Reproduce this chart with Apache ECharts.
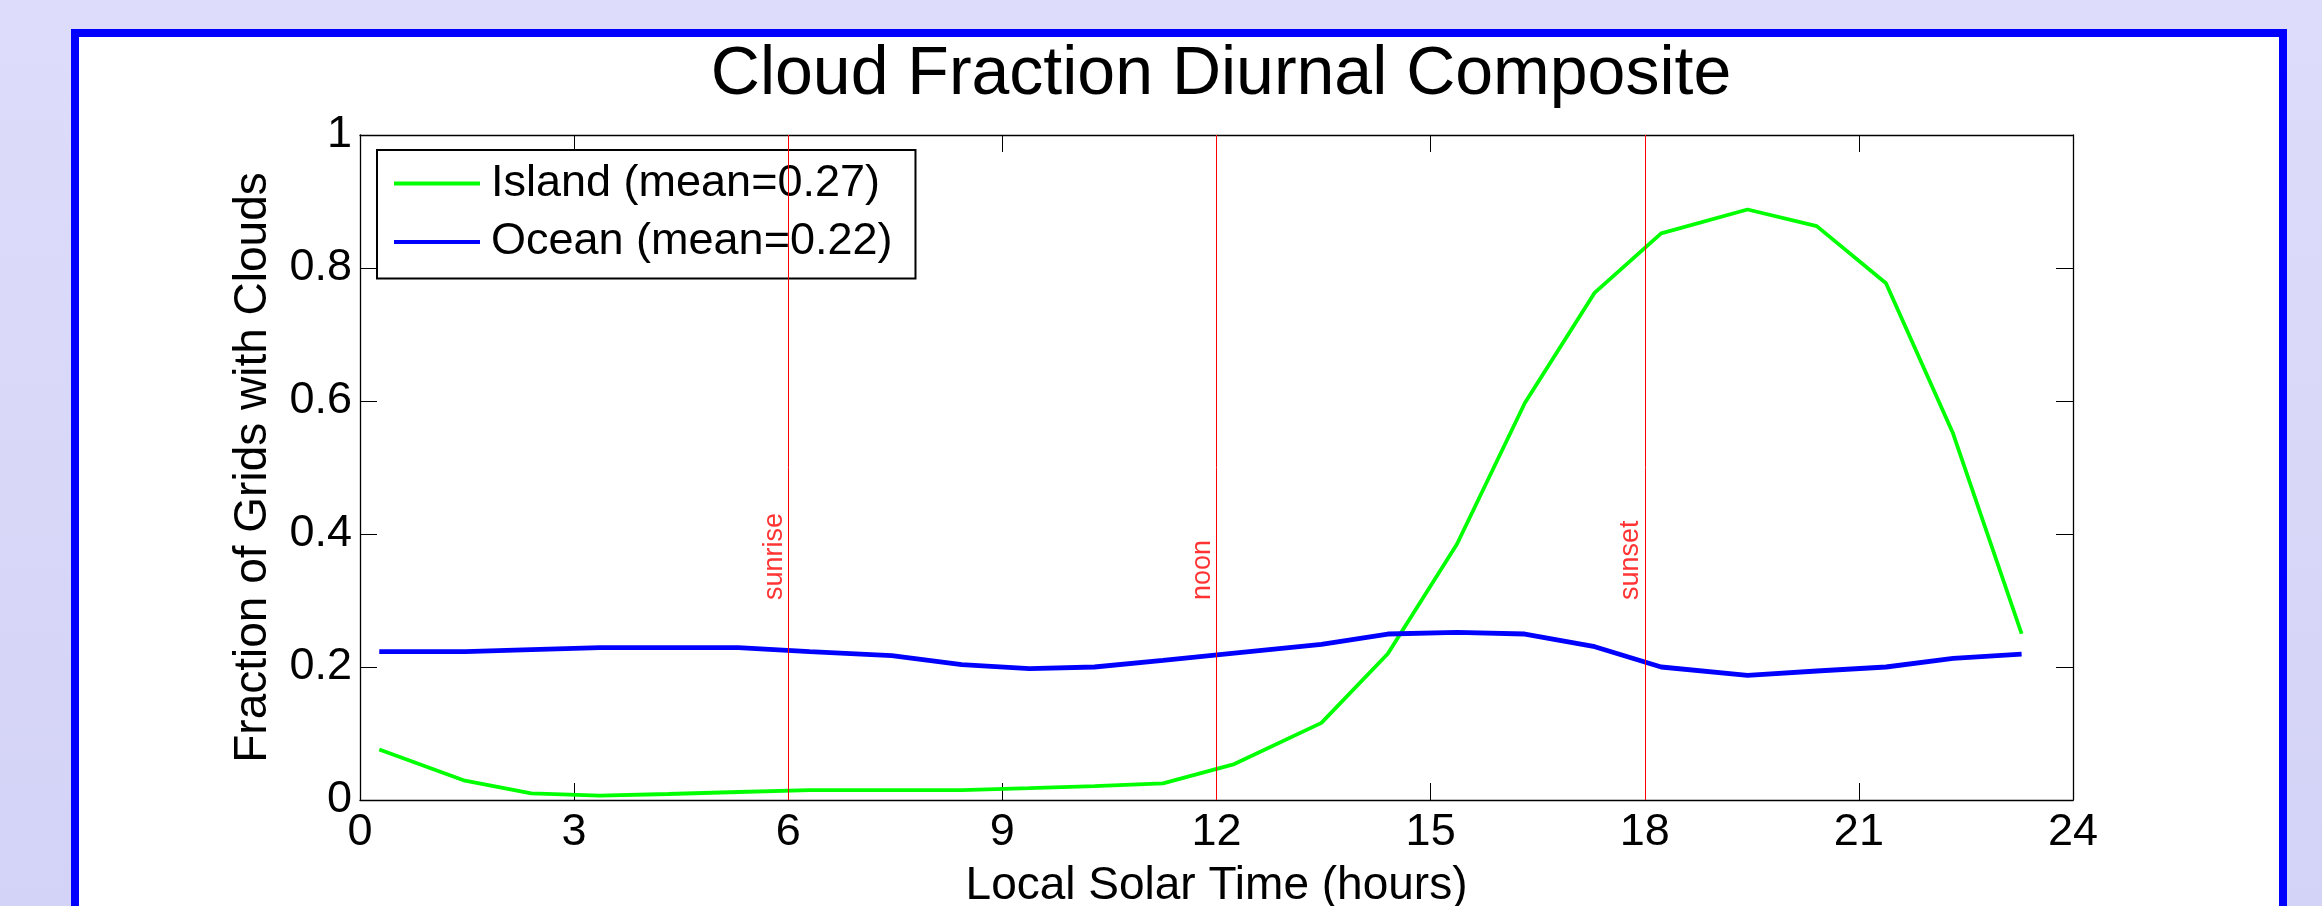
<!DOCTYPE html>
<html><head><meta charset="utf-8">
<script src="https://cdn.jsdelivr.net/npm/echarts@6/dist/echarts.min.js"></script>
<style>
html,body{margin:0;padding:0;width:2322px;height:906px;overflow:hidden;background:linear-gradient(#dddcfa,#d3d3f7);}
#frame{position:absolute;left:71px;top:29px;width:2200px;height:900px;border:8px solid #0000ff;border-bottom:none;background:#fff;}
#chart{position:absolute;left:0;top:0;width:2322px;height:906px;}
</style></head><body>
<div id="frame"></div><div id="chart"></div>
<script>
// ---- data ----
const titleText = 'Cloud Fraction Diurnal Composite';
const xName = 'Local Solar Time (hours)';
const yName = 'Fraction of Grids with Clouds';
const seriesNames = ['Island (mean=0.27)', 'Ocean (mean=0.22)'];
const hours = [0.27, 1.47, 2.40, 3.36, 4.32, 5.30, 6.30, 7.45, 8.43, 9.38, 10.29, 11.25,
               12.25, 13.47, 14.40, 15.37, 16.32, 17.30, 18.23, 19.44, 20.41, 21.38, 22.32, 23.28];
const islandValues = [0.076, 0.029, 0.010, 0.0065, 0.009, 0.012, 0.015, 0.015, 0.015, 0.018, 0.021, 0.025,
                      0.054, 0.116, 0.220, 0.385, 0.597, 0.763, 0.852, 0.888, 0.863, 0.777, 0.551, 0.250];
const oceanValues = [0.223, 0.223, 0.226, 0.229, 0.229, 0.229, 0.223, 0.217, 0.2035, 0.1976, 0.200, 0.210,
                     0.221, 0.234, 0.2496, 0.252, 0.2496, 0.2305, 0.200, 0.1875, 0.194, 0.200, 0.213, 0.2195];
const markerHours = [6, 12, 18];
const markerLabels = ['sunrise', 'noon', 'sunset'];
const markerLabelY = 0.3;
const xMin = 0, xMax = 24, xStep = 3;
const yMin = 0, yMax = 1, yStep = 0.2;

const FONT = "'Liberation Sans', Arial, Helvetica, sans-serif";
const chart = echarts.init(document.getElementById('chart'), null, {renderer: 'canvas'});

const axisCommon = {
  type: 'value',
  axisLine: {show: true, onZero: false, lineStyle: {color: '#000', width: 1.3}},
  axisTick: {show: true, inside: true, length: 17, lineStyle: {color: '#000', width: 1}},
  splitLine: {show: false}
};

const option = {
  animation: false,
  backgroundColor: 'transparent',
  title: {
    text: titleText, left: 1216, top: 36, textAlign: 'center',
    textStyle: {fontSize: 68, fontWeight: 'normal', color: '#000', fontFamily: FONT}
  },
  grid: {left: 360, top: 135, width: 1713, height: 665, containLabel: false, outerBoundsMode: 'none'},
  legend: {
    orient: 'vertical', left: 377, top: 150,
    data: seriesNames,
    icon: 'rect',
    backgroundColor: '#fff', borderColor: '#000', borderWidth: 2, borderRadius: 0,
    padding: [11, 23, 14, 17],
    itemWidth: 86, itemHeight: 4, itemGap: 13.5,
    textStyle: {fontSize: 45, lineHeight: 45, color: '#000', fontFamily: FONT, padding: [0, 0, 0, 6]}
  },
  xAxis: [
    Object.assign({}, axisCommon, {
      position: 'bottom', min: xMin, max: xMax, interval: xStep,
      name: xName, nameLocation: 'middle', nameGap: 63,
      nameTextStyle: {fontSize: 46, color: '#000', fontFamily: FONT},
      axisLabel: {show: true, margin: 10, fontSize: 45, color: '#000', fontFamily: FONT}
    }),
    Object.assign({}, axisCommon, {
      position: 'top', min: xMin, max: xMax, interval: xStep,
      axisLabel: {show: false}
    })
  ],
  yAxis: [
    Object.assign({}, axisCommon, {
      position: 'left', min: yMin, max: yMax, interval: yStep,
      name: yName, nameLocation: 'middle', nameGap: 84,
      nameTextStyle: {fontSize: 46, color: '#000', fontFamily: FONT},
      axisLabel: {show: true, margin: 8, fontSize: 45, color: '#000', fontFamily: FONT}
    }),
    Object.assign({}, axisCommon, {
      position: 'right', min: yMin, max: yMax, interval: yStep,
      axisLabel: {show: false}
    })
  ],
  series: [
    {
      name: seriesNames[0], type: 'line', xAxisIndex: 0, yAxisIndex: 0,
      data: hours.map((h, i) => [h, islandValues[i]]),
      symbol: 'none', z: 4,
      lineStyle: {color: '#00ff00', width: 3.8},
      itemStyle: {color: '#00ff00'}
    },
    {
      name: seriesNames[1], type: 'line', xAxisIndex: 0, yAxisIndex: 0,
      data: hours.map((h, i) => [h, oceanValues[i]]),
      symbol: 'none', z: 4,
      lineStyle: {color: '#0000ff', width: 4.8},
      itemStyle: {color: '#0000ff'}
    },
    {
      name: 'markers', type: 'scatter', xAxisIndex: 0, yAxisIndex: 0, z: 3,
      symbolSize: 1, itemStyle: {color: 'rgba(0,0,0,0)'},
      silent: true,
      data: markerHours.map((h, i) => ({name: markerLabels[i], value: [h, markerLabelY]})),
      label: {
        show: true, formatter: '{b}', position: [0, 0], rotate: 90,
        align: 'left', verticalAlign: 'bottom',
        fontSize: 27, color: '#ff0000', fontFamily: FONT
      },
      markLine: {
        silent: true, symbol: ['none', 'none'], label: {show: false},
        lineStyle: {color: '#ff0000', width: 1, type: 'solid'},
        data: markerHours.map(h => ({xAxis: h}))
      }
    }
  ]
};
chart.setOption(option);
</script>
</body></html>
